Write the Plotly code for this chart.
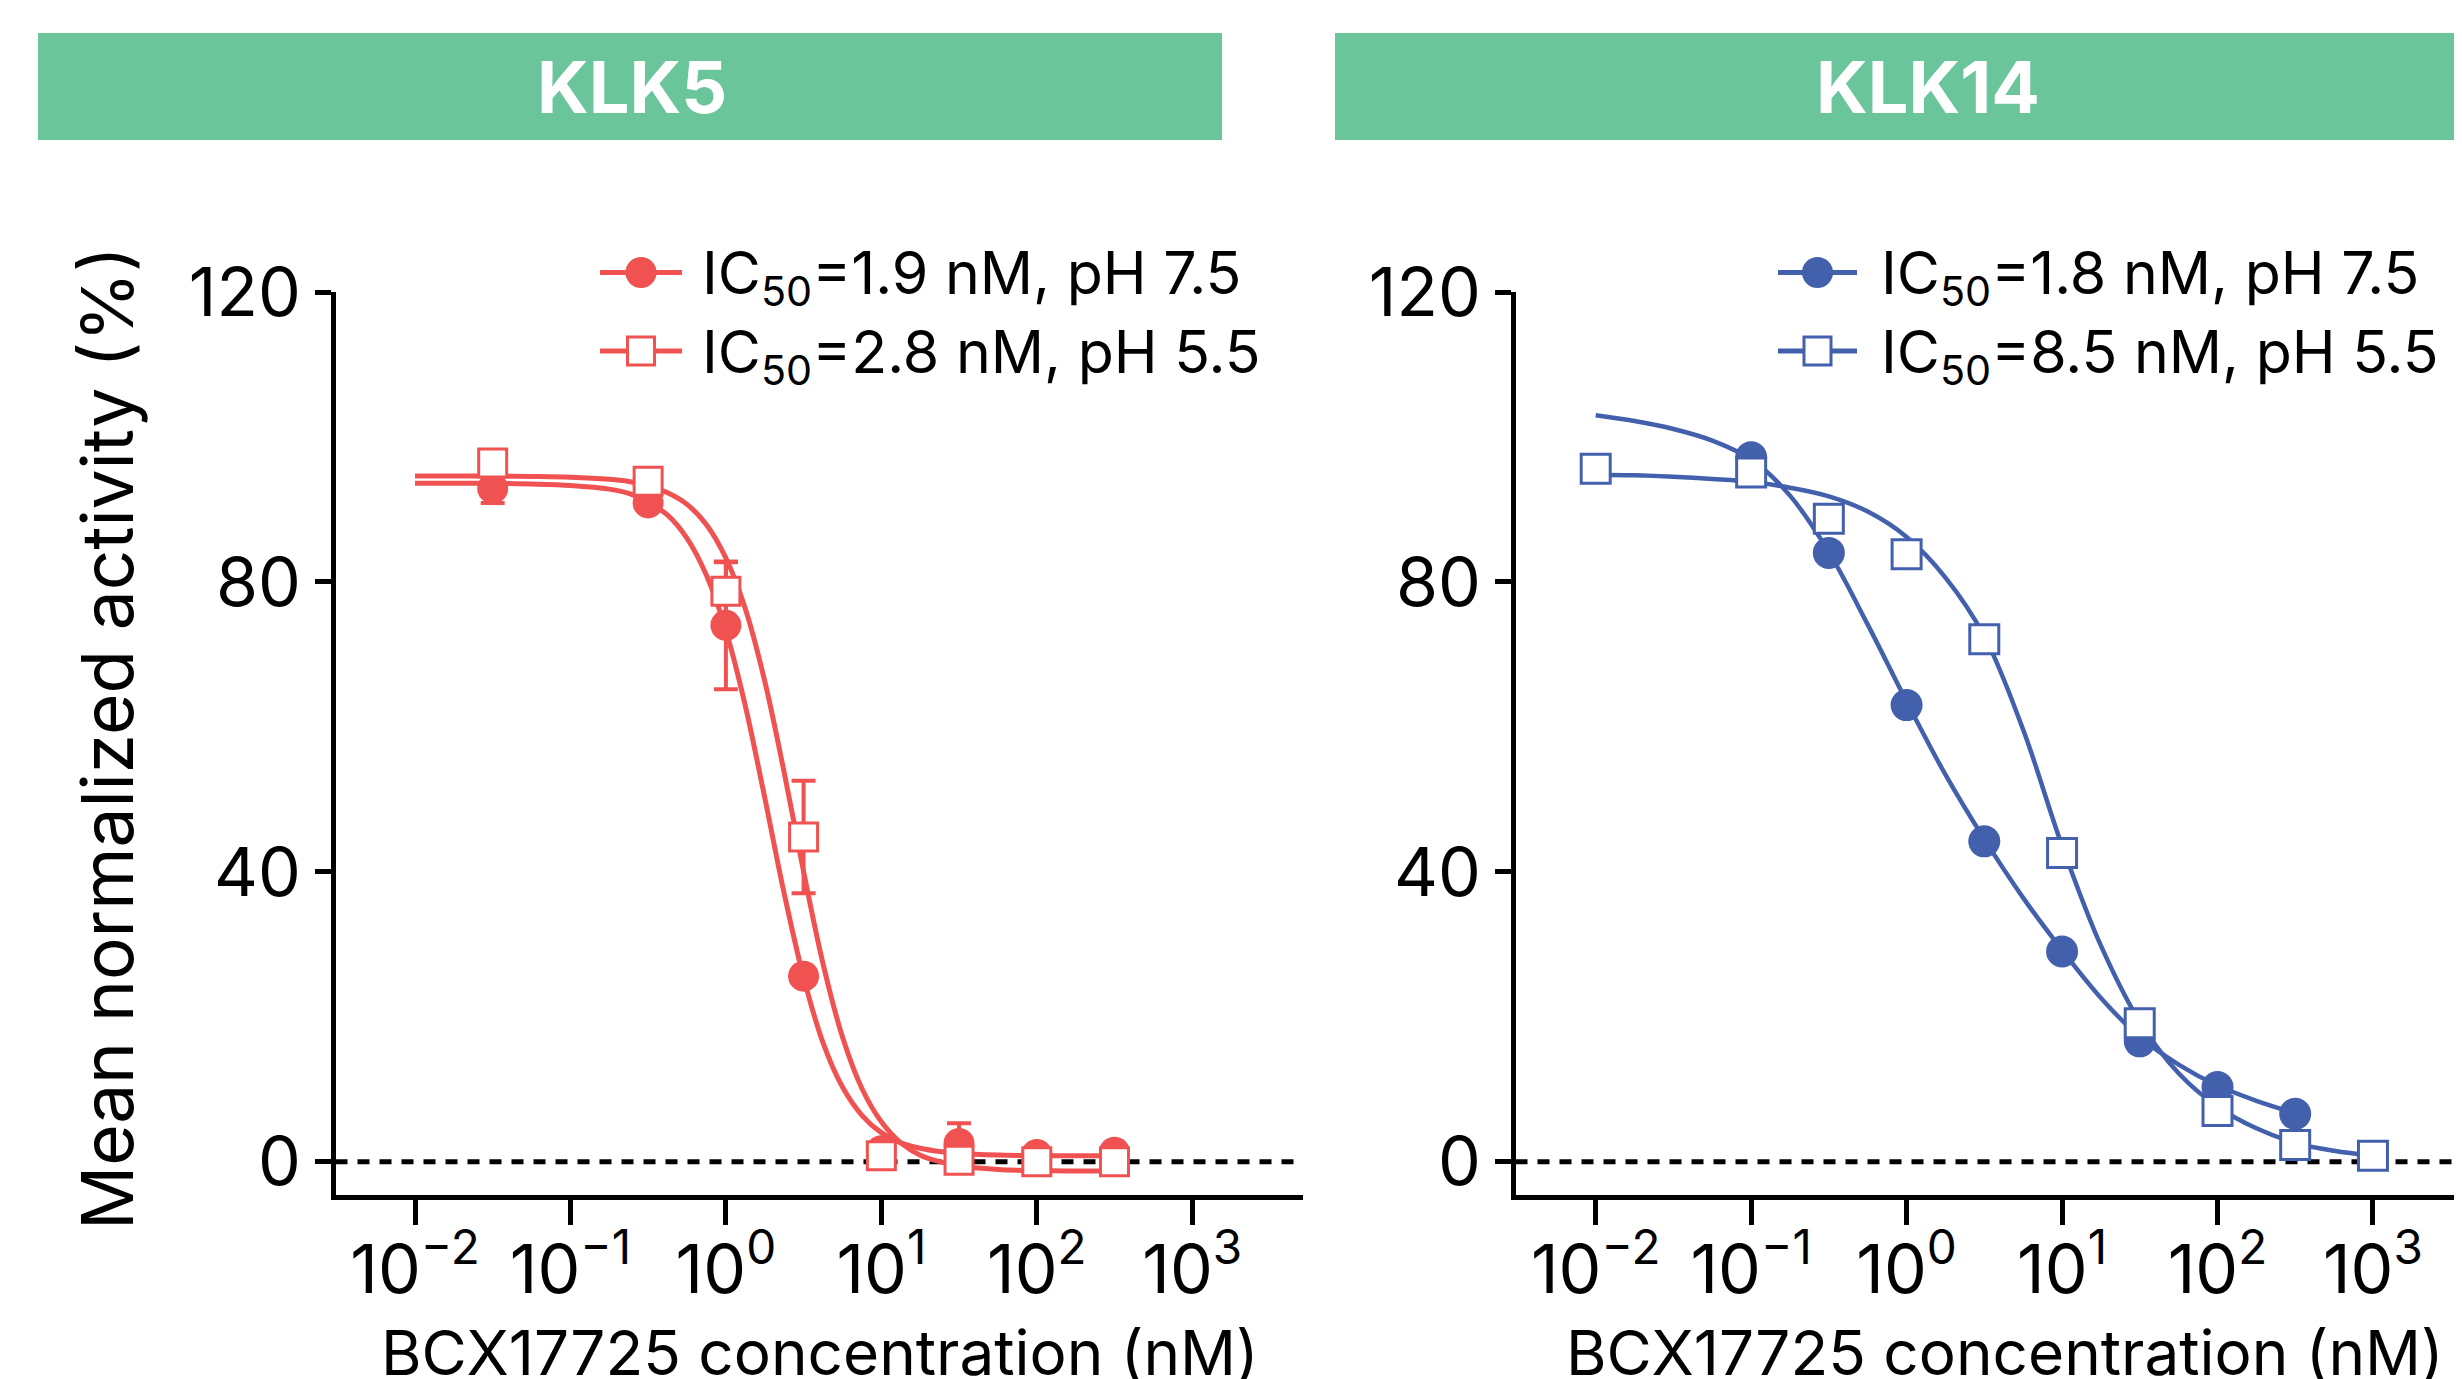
import plotly.graph_objects as go

W, H = 2462, 1379
OFF = 8  # page body margin in the browser
FONT = "Inter"
RED = "#F05252"
BLUE = "#4360AD"
GREEN = "#6BC59B"

# ---------------- data ----------------
panel_titles = ["KLK5", "KLK14"]
x_title = "BCX17725 concentration (nM)"
y_title = "Mean normalized activity (%)"
x_tickvals = [0.01, 0.1, 1, 10, 100, 1000]
x_ticktext = ["10<sup>−2</sup>", "10<sup>−1</sup>", "10<sup>0</sup>",
              "10<sup>1</sup>", "10<sup>2</sup>", "10<sup>3</sup>"]
y_tickvals = [0, 40, 80, 120]

# KLK5 measured points
klk5_conc = [0.0316, 0.316, 1, 3.16, 10, 31.6, 100, 316]
klk5_ph75 = [92.9, 90.9, 74.0, 25.6, 1.5, 2.5, 1.0, 1.3]
klk5_ph75_err = [2.0, 0.5, 8.8, 1.0, 0.0, 2.8, 0.0, 0.0]
klk5_ph55 = [96.4, 93.9, 78.7, 44.8, 0.8, 0.2, 0.0, 0.0]
klk5_ph55_err = [1.0, 0.8, 4.0, 7.75, 0.5, 0.5, 0.5, 0.5]

# KLK5 fitted curves, x as log10(nM)
klk5_fit_log = [-2, -1.75, -1.5, -1.25, -1, -0.75, -0.625, -0.5, -0.375, -0.25,
                -0.125, 0, 0.125, 0.25, 0.375, 0.5, 0.625, 0.75, 0.875, 1,
                1.125, 1.25, 1.375, 1.5, 1.75, 2, 2.25, 2.5]
klk5_fit_ph75 = [93.6, 93.6, 93.6, 93.5, 93.3, 92.8, 92.2, 91.0, 89.2, 86.0,
                 80.9, 73.3, 62.9, 50.2, 37.0, 25.4, 16.4, 10.3, 6.4, 4.0,
                 2.6, 1.85, 1.4, 1.13, 0.91, 0.83, 0.81, 0.8]
klk5_fit_ph55 = [94.6, 94.6, 94.6, 94.55, 94.45, 94.15, 93.85, 93.3, 92.3, 90.7,
                 87.9, 83.3, 76.3, 66.3, 53.7, 40.0, 27.3, 17.2, 10.1, 5.5,
                 2.6, 0.9, 0.0, -0.6, -1.07, -1.23, -1.28, -1.3]

# KLK14 measured points
klk14_conc_ph75 = [0.1, 0.316, 1, 3.16, 10, 31.6, 100, 316]
klk14_ph75 = [97.2, 84.0, 63.0, 44.2, 29.0, 16.6, 10.3, 6.6]
klk14_conc_ph55 = [0.01, 0.1, 0.316, 1, 3.16, 10, 31.6, 100, 316, 1000]
klk14_ph55 = [95.6, 95.1, 88.7, 83.8, 72.1, 42.6, 19.1, 7.0, 2.3, 0.8]

# KLK14 fitted curves, x as log10(nM)
klk14_fit75_log = [-2, -1.75, -1.5, -1.25, -1, -0.75, -0.5, -0.25, 0, 0.25,
                   0.5, 0.75, 1, 1.25, 1.5, 1.75, 2, 2.25, 2.5]
klk14_fit_ph75 = [103.0, 102.2, 101.1, 99.5, 96.9, 91.9, 84.1, 74.1, 63.5, 53.4,
                  44.5, 36.4, 29.2, 22.6, 17.2, 13.4, 10.5, 8.4, 6.7]
klk14_fit55_log = [-2, -1.75, -1.5, -1.25, -1, -0.75, -0.5, -0.25, 0, 0.25,
                   0.5, 0.75, 1, 1.25, 1.5, 1.75, 2, 2.25, 2.5, 2.75, 3]
klk14_fit_ph55 = [94.8, 94.7, 94.5, 94.2, 93.8, 93.0, 91.8, 89.7, 86.2, 80.6,
                  72.5, 59.6, 43.6, 29.8, 19.3, 12.2, 7.6, 4.6, 2.6, 1.5, 0.8]

legend_klk5 = ["IC<sub>50</sub>=1.9 nM, pH 7.5", "IC<sub>50</sub>=2.8 nM, pH 5.5"]
legend_klk14 = ["IC<sub>50</sub>=1.8 nM, pH 7.5", "IC<sub>50</sub>=8.5 nM, pH 5.5"]


def px(x):
    return (x - OFF) / W


def py(y):
    return 1 - (y - OFF) / H


fig = go.Figure()


def add_panel(xa, ya, color, lw, fit75_log, fit75, fit55_log, fit55,
              c75, v75, e75, c55, v55, e55, msize):
    fig.add_trace(go.Scatter(x=[10 ** v for v in fit75_log], y=fit75, mode="lines",
                             line=dict(color=color, width=lw, shape="spline"),
                             xaxis=xa, yaxis=ya, hoverinfo="skip", showlegend=False))
    fig.add_trace(go.Scatter(x=[10 ** v for v in fit55_log], y=fit55, mode="lines",
                             line=dict(color=color, width=lw, shape="spline"),
                             xaxis=xa, yaxis=ya, hoverinfo="skip", showlegend=False))
    err75 = None
    if e75 is not None:
        err75 = dict(type="data", array=e75, visible=True, color=color,
                     thickness=4, width=12)
    err55 = None
    if e55 is not None:
        err55 = dict(type="data", array=e55, visible=True, color=color,
                     thickness=4, width=12)
    fig.add_trace(go.Scatter(x=c75, y=v75, mode="markers",
                             marker=dict(symbol="circle", size=msize, color=color,
                                         line=dict(width=0)),
                             error_y=err75, xaxis=xa, yaxis=ya, showlegend=False))
    fig.add_trace(go.Scatter(x=c55, y=v55, mode="markers",
                             marker=dict(symbol="square", size=msize - 3, color="white",
                                         line=dict(width=3, color=color)),
                             error_y=err55, xaxis=xa, yaxis=ya, showlegend=False))


add_panel("x", "y", RED, 5, klk5_fit_log, klk5_fit_ph75, klk5_fit_log, klk5_fit_ph55,
          klk5_conc, klk5_ph75, klk5_ph75_err, klk5_conc, klk5_ph55, klk5_ph55_err, 31)
add_panel("x2", "y2", BLUE, 4.5, klk14_fit75_log, klk14_fit_ph75, klk14_fit55_log, klk14_fit_ph55,
          klk14_conc_ph75, klk14_ph75, None, klk14_conc_ph55, klk14_ph55, None, 32)

tickfont = dict(family=FONT, size=68, color="black")
xcommon = dict(type="log", showline=True, linecolor="black", linewidth=5,
               showgrid=False, zeroline=False, ticks="outside", tickcolor="black",
               ticklen=25, tickwidth=4.5, tickvals=x_tickvals, ticktext=x_ticktext,
               tickfont=tickfont, fixedrange=True, automargin=False,
               ticklabelstandoff=-14)
ycommon = dict(showline=True, linecolor="black", linewidth=5, showgrid=False,
               zeroline=False, ticks="outside", tickcolor="black", ticklen=16,
               tickwidth=5, tickvals=y_tickvals, ticktext=[str(v) for v in y_tickvals],
               tickfont=tickfont, range=[-4.6, 120], fixedrange=True, automargin=False)

# log position of the 10^-2 tick in window pixels, pixels per decade
X0_L, X0_R, DEC = 415.0, 1595.7, 155.45
left_x0, left_x1 = 335.5, 1303.0
right_x0, right_x1 = 1515.5, W + OFF

ydom = [py(1195), py(292)]
fig.update_layout(
    template="none",
    width=W, height=H, margin=dict(l=0, r=0, t=0, b=0, pad=0, autoexpand=False),
    paper_bgcolor="white", plot_bgcolor="white", showlegend=False,
    xaxis=dict(xcommon, domain=[px(left_x0), px(left_x1)],
               range=[-2 + (left_x0 - X0_L) / DEC, -2 + (left_x1 - X0_L) / DEC], anchor="y"),
    yaxis=dict(ycommon, domain=ydom, anchor="x"),
    xaxis2=dict(xcommon, domain=[px(right_x0), 1.0],
                range=[-2 + (right_x0 - X0_R) / DEC, -2 + (right_x1 - X0_R) / DEC], anchor="y2"),
    yaxis2=dict(ycommon, domain=ydom, anchor="x2"),
)

shapes = []
annotations = []
# dashed zero lines
for xr, yr in (("x", "y"), ("x2", "y2")):
    shapes.append(dict(type="line", xref=xr + " domain", x0=0, x1=1, yref=yr, y0=0, y1=0,
                       line=dict(color="black", width=5, dash="12px,10px"), layer="below"))

# header bars
shapes.append(dict(type="rect", xref="paper", yref="paper", x0=px(38), x1=px(1222),
                   y0=py(140), y1=py(33), fillcolor=GREEN, line=dict(width=0)))
shapes.append(dict(type="rect", xref="paper", yref="paper", x0=px(1335), x1=1.1,
                   y0=py(140), y1=py(33), fillcolor=GREEN, line=dict(width=0)))
for txt, cx in ((panel_titles[0], 632), (panel_titles[1], 1928)):
    annotations.append(dict(text="<b>" + txt + "</b>", x=px(cx), y=py(87), xref="paper",
                            yref="paper", showarrow=False, xanchor="center", yanchor="middle",
                            font=dict(family=FONT, size=72, color="white")))


# legends
def legend_block(x_line0, x_line1, x_text, color, labels):
    rows = [272.5, 351]
    cx = (x_line0 + x_line1) / 2
    for i, (ry, lab) in enumerate(zip(rows, labels)):
        shapes.append(dict(type="line", xref="paper", yref="paper", x0=px(x_line0),
                           x1=px(x_line1), y0=py(ry), y1=py(ry),
                           line=dict(color=color, width=5)))
        if i == 0:
            shapes.append(dict(type="circle", xref="paper", yref="paper",
                               x0=px(cx - 15.5), x1=px(cx + 15.5), y0=py(ry + 15.5), y1=py(ry - 15.5),
                               fillcolor=color, line=dict(width=0)))
        else:
            shapes.append(dict(type="rect", xref="paper", yref="paper",
                               x0=px(cx - 13.5), x1=px(cx + 13.5), y0=py(ry + 14), y1=py(ry - 14),
                               fillcolor="white", line=dict(width=3, color=color)))
        annotations.append(dict(text=lab, x=px(x_text), y=py(ry + 4), xref="paper", yref="paper",
                                showarrow=False, xanchor="left", yanchor="middle",
                                font=dict(family=FONT, size=59, color="black")))


legend_block(600, 682, 700, RED, legend_klk5)
legend_block(1778, 1857, 1879, BLUE, legend_klk14)

# axis titles
annotations.append(dict(text=y_title, x=px(107), y=py(738), xref="paper", yref="paper",
                        showarrow=False, textangle=-90, xanchor="center", yanchor="middle",
                        font=dict(family=FONT, size=71, color="black")))
for cx in (820, 2005):
    annotations.append(dict(text=x_title, x=px(cx), y=py(1352), xref="paper", yref="paper",
                            showarrow=False, xanchor="center", yanchor="middle",
                            font=dict(family=FONT, size=62, color="black")))

fig.update_layout(shapes=shapes, annotations=annotations)
fig.write_html("out.html")
